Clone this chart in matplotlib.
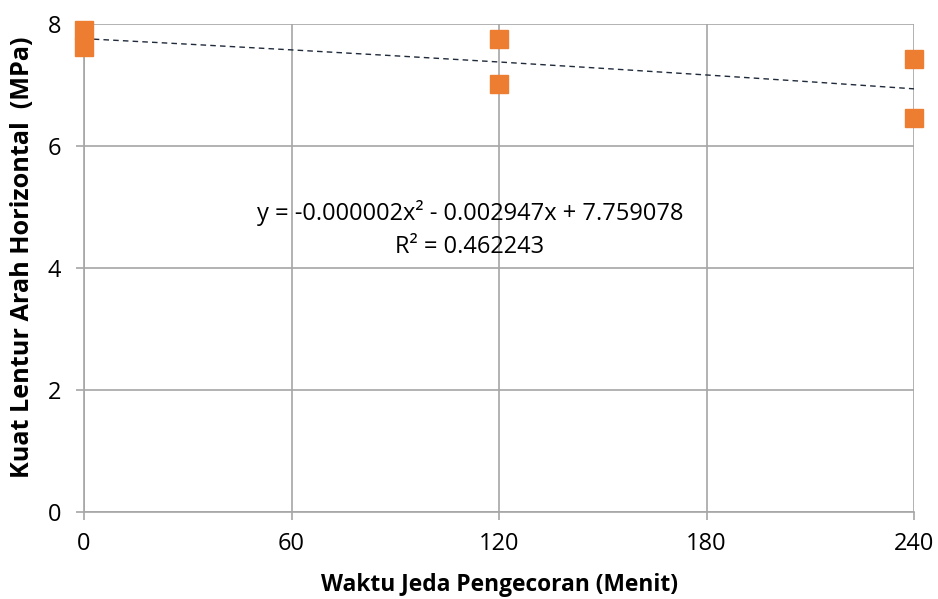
import numpy as np
import matplotlib.pyplot as plt

plt.rcParams['font.family'] = ['Open Sans', 'DejaVu Sans']

# data
waktu = [0, 0, 120, 120, 240, 240]
kuat_lentur = [7.90, 7.62, 7.75, 7.01, 7.42, 6.46]

# polynomial trendline as printed on the chart
coef = [-0.000002, -0.002947, 7.759078]
r2 = 0.462243

x_ticks = [0, 60, 120, 180, 240]
y_ticks = [0, 2, 4, 6, 8]

fig = plt.figure(figsize=(9.38, 5.99), dpi=100)
ax = fig.add_axes([0.0896, 0.1452, 0.8848, 0.8148])

ax.set_xlim(0, 240)
ax.set_ylim(0, 8)
ax.set_xticks(x_ticks)
ax.set_yticks(y_ticks)
ax.grid(True, color='#a6a6a6', linewidth=1.2)
ax.set_axisbelow(True)
for side in ['top', 'right']:
    ax.spines[side].set_visible(False)
for side in ['left', 'bottom']:
    ax.spines[side].set_color('#a6a6a6')
    ax.spines[side].set_linewidth(1.2)
ax.tick_params(axis='both', colors='#a6a6a6', labelcolor='black',
               labelsize=17, length=5.5, width=1.2)
ax.tick_params(axis='x', pad=9)
ax.tick_params(axis='y', pad=11)

xs = np.linspace(0, 240, 200)
ax.plot(xs, np.polyval(coef, xs), linestyle=(0, (4, 3)), color='#1f2a3a',
        linewidth=1.0, zorder=3)

ax.plot(waktu, kuat_lentur, linestyle='none', marker='s', markersize=13.5,
        color='#ed7d31', clip_on=False, zorder=4)

ax.text(111.6, 4.9, 'y = -0.000002x² - 0.002947x + 7.759078', ha='center',
        va='center', fontsize=17)
ax.text(111.6, 4.35, 'R² = %.6f' % r2, ha='center', va='center', fontsize=17)

ax.set_xlabel('Waktu Jeda Pengecoran (Menit)', fontsize=16.4, fontweight='bold',
              labelpad=12)
ax.set_ylabel('Kuat Lentur Arah Horizontal  (MPa)', fontsize=18.2,
              fontweight='bold')
ax.yaxis.set_label_coords(-0.059, 0.5225)

fig.savefig('out.png', dpi=100)
